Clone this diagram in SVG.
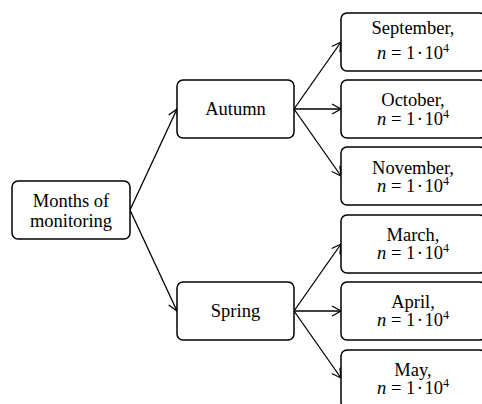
<svg xmlns="http://www.w3.org/2000/svg" width="482" height="404" viewBox="0 0 482 404">
<defs>
<marker id="arr" markerWidth="12" markerHeight="12" refX="10" refY="6" orient="auto" markerUnits="userSpaceOnUse">
<path d="M1,1 L10,6 L1,11" fill="none" stroke="#000" stroke-width="1.3"/>
</marker>
<style>
rect{fill:#fff;stroke:#000;stroke-width:1.5}
text{font-family:"Liberation Serif","Times New Roman",serif;font-size:18.5px;fill:#000;text-anchor:middle}
.i{font-style:italic}
.s{font-size:12px}
#connectors line{stroke:#000;stroke-width:1.3;marker-end:url(#arr)}
</style>
</defs>
<rect x="0" y="0" width="482" height="404" style="fill:#fff;stroke:none"/>
<g id="connectors">
<line x1="130" y1="210" x2="177" y2="109"/>
<line x1="130" y1="210" x2="177" y2="311"/>
<line x1="294" y1="109" x2="341" y2="42"/>
<line x1="294" y1="109" x2="341" y2="109"/>
<line x1="294" y1="109" x2="341" y2="176"/>
<line x1="294" y1="311" x2="341" y2="244"/>
<line x1="294" y1="311" x2="341" y2="311"/>
<line x1="294" y1="311" x2="341" y2="378"/>
</g>
<g id="root">
<rect x="12" y="181" width="118" height="58" rx="6"/>
<text x="71" y="207">Months of</text>
<text x="71" y="227">monitoring</text>
</g>
<g id="autumn">
<rect x="177" y="80" width="117" height="58" rx="6"/>
<text x="235.5" y="115">Autumn</text>
</g>
<g id="spring">
<rect x="177" y="282" width="117" height="58" rx="6"/>
<text x="235.5" y="317">Spring</text>
</g>
<g id="september">
<rect x="341" y="13" width="145" height="58" rx="6"/>
<text x="413" y="34">September,</text>
<text x="413" y="59"><tspan class="i">n</tspan> = 1&#8202;·&#8202;10<tspan class="s" dy="-7">4</tspan></text>
</g>
<g id="october">
<rect x="341" y="80" width="145" height="58" rx="6"/>
<text x="413" y="106">October,</text>
<text x="413" y="124.5"><tspan class="i">n</tspan> = 1&#8202;·&#8202;10<tspan class="s" dy="-7">4</tspan></text>
</g>
<g id="november">
<rect x="341" y="147" width="145" height="58" rx="6"/>
<text x="413" y="174">November,</text>
<text x="413" y="192"><tspan class="i">n</tspan> = 1&#8202;·&#8202;10<tspan class="s" dy="-7">4</tspan></text>
</g>
<g id="march">
<rect x="341" y="215" width="145" height="58" rx="6"/>
<text x="413" y="241">March,</text>
<text x="413" y="259"><tspan class="i">n</tspan> = 1&#8202;·&#8202;10<tspan class="s" dy="-7">4</tspan></text>
</g>
<g id="april">
<rect x="341" y="282" width="145" height="58" rx="6"/>
<text x="413" y="308">April,</text>
<text x="413" y="326"><tspan class="i">n</tspan> = 1&#8202;·&#8202;10<tspan class="s" dy="-7">4</tspan></text>
</g>
<g id="may">
<rect x="341" y="350" width="145" height="58" rx="6"/>
<text x="413" y="376">May,</text>
<text x="413" y="394"><tspan class="i">n</tspan> = 1&#8202;·&#8202;10<tspan class="s" dy="-7">4</tspan></text>
</g>
</svg>
